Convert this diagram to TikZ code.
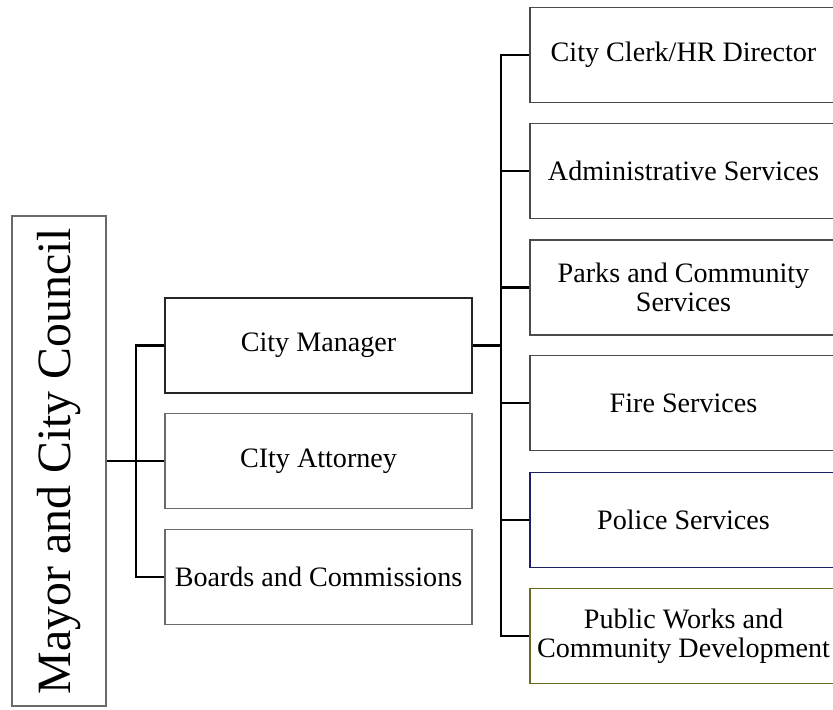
\documentclass[tikz,border=0pt]{standalone}
\usepackage{fontspec}
\setmainfont{Liberation Serif}
\definecolor{boxgray}{HTML}{4A4A4A}
\definecolor{lightgray}{HTML}{6A6A6A}
\definecolor{policeblue}{HTML}{1E1E66}
\definecolor{worksolive}{HTML}{6A6A2A}
\begin{document}
\begin{tikzpicture}
	[x=0.025cm, y=-0.025cm,
	block/.style={rectangle,draw=boxgray,fill=white,line width=1pt,inner sep=0pt,
		minimum width=7.675cm,minimum height=2.375cm,align=center,
		font=\fontsize{20}{20.5}\selectfont},
	councilBlock/.style={rectangle,draw=lightgray,fill=white,line width=1pt,inner sep=0pt,
		minimum width=12.25cm,minimum height=2.35cm,rotate=90,
		font=\fontsize{34}{36}\selectfont},
	link/.style={draw=black,line width=1.5pt}]
	
	\clip (0,0) rectangle (833,709);
	
	% council
	\node (council) at ( 59,461 ) [councilBlock] {Mayor and City Council};
	
	% middle column
	\node (manager) at ( 318.5,345.5 ) [block, draw=black!85] {City Manager};
	\node (attorney) at ( 318.5,461 ) [block, draw=lightgray] {CIty Attorney};
	\node (boards) at ( 318.5,577 ) [block, draw=lightgray] {Boards and Commissions};
	
	% right column
	\node (clerk) at ( 683.5,55 ) [block] {City Clerk/HR Director};
	\node (admin) at ( 683.5,171 ) [block] {Administrative Services};
	\node (parks) at ( 683.5,287.5 ) [block] {Parks and Community\\Services};
	\node (fire) at ( 683.5,403 ) [block] {Fire Services};
	\node (police) at ( 683.5,520 ) [block, draw=policeblue] {Police Services};
	\node (works) at ( 683.5,636 ) [block, draw=worksolive] {Public Works and\\Community Development};
	
	\coordinate (lj) at ( 136,461 );
	\coordinate (rj) at ( 501,345.5 );
	
	\draw [link] (council.south) -- (lj);
	\draw [link] (lj) |- (manager.west);
	\draw [link] (lj) -- (attorney.west);
	\draw [link] (lj) |- (boards.west);
	
	\draw [link] (manager.east) -- (rj);
	\draw [link] (rj) |- (clerk.west);
	\draw [link] (rj) |- (admin.west);
	\draw [link] (rj) |- (parks.west);
	\draw [link] (rj) |- (fire.west);
	\draw [link] (rj) |- (police.west);
	\draw [link] (rj) |- (works.west);

\end{tikzpicture}
\end{document}
